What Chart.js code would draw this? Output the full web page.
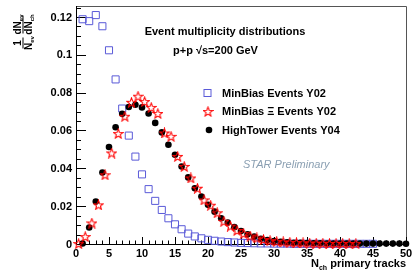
<!DOCTYPE html>
<html>
<head>
<meta charset="utf-8">
<script src="https://cdn.jsdelivr.net/npm/chart.js@4"></script>
<style>
  body { margin: 0; background: #fff; }
  canvas { display: block; }
</style>
</head>
<body>
<canvas id="chart" width="412" height="271"></canvas>
<script>
// MinBias Events Y02 (open squares)
const mbNch = [1, 2, 3, 4, 5, 6, 7, 8, 9, 10, 11, 12, 13, 14, 15, 16, 17, 18, 19, 20,
  21, 22, 23, 24, 25, 26, 27, 28, 29, 30, 31, 32, 33, 34, 35, 36, 37, 38, 39, 40, 41, 42, 43, 44, 45];
const mbValues = [0.1188, 0.1178, 0.1210, 0.1151, 0.1024, 0.0870, 0.0716, 0.0573, 0.0462, 0.0368,
  0.0290, 0.0228, 0.0180, 0.0136, 0.0104, 0.0078, 0.0055, 0.0040, 0.0030, 0.0022,
  0.0017, 0.0013, 0.0010, 0.0008, 0.0006, 0.0005, 0.0004, 0.0003, 0.0003, 0.0002,
  0.0002, 0.0002, 0.0001, 0.0001, 0.0001, 0.0001, 0.0001, 0.0001, 0.0001, 0.0001,
  0.0001, 0.0001, 0.0001, 0.0001, 0.0001];

// MinBias Xi Events Y02 (open stars), bins shifted a bit to the right
const xiNch = [0.4, 1.4, 2.4, 3.4, 4.4, 5.4, 6.4, 7.4, 8.4, 9.4, 10.4, 11.4, 12.4, 13.4, 14.4,
  15.4, 16.4, 17.4, 18.4, 19.4, 20.4, 21.4, 22.4, 23.4, 24.4, 25.4, 26.4, 27.4, 28.4, 29.4,
  30.4, 31.4, 32.4, 33.4, 34.4, 35.4, 36.4, 37.4, 38.4, 39.4, 40.4, 41.4, 42.4];
const xiValues = [0.0002, 0.0039, 0.0111, 0.0207, 0.0366, 0.0481, 0.0584, 0.0675, 0.0749, 0.0781,
  0.0753, 0.0722, 0.0690, 0.0587, 0.0569, 0.0463, 0.0410, 0.0349, 0.0295, 0.0233,
  0.0205, 0.0165, 0.0120, 0.0095, 0.0072, 0.0055, 0.0042, 0.0032, 0.0024, 0.0018,
  0.0014, 0.0011, 0.0009, 0.0007, 0.0006, 0.0005, 0.0004, 0.0004, 0.0003, 0.0003,
  0.0003, 0.0002, 0.0002];

// HighTower Events Y04 (full circles)
const htNch = [1, 2, 3, 4, 5, 6, 7, 8, 9, 10, 11, 12, 13, 14, 15, 16, 17, 18, 19, 20,
  21, 22, 23, 24, 25, 26, 27, 28, 29, 30, 31, 32, 33, 34, 35, 36, 37, 38, 39, 40,
  41, 42, 43, 44, 45, 46, 47, 48, 49, 50];
const htValues = [0.0003, 0.0087, 0.0224, 0.0378, 0.0513, 0.0617, 0.0688, 0.0724, 0.0736, 0.0722,
  0.0690, 0.0640, 0.0590, 0.0525, 0.0472, 0.0410, 0.0352, 0.0295, 0.0251, 0.0207,
  0.0171, 0.0136, 0.0113, 0.0089, 0.0069, 0.0051, 0.0039, 0.0028, 0.0021, 0.0016,
  0.0012, 0.0009, 0.0007, 0.0006, 0.0005, 0.0004, 0.0004, 0.0003, 0.0003, 0.0003,
  0.0003, 0.0003, 0.0002, 0.0002, 0.0002, 0.0002, 0.0002, 0.0002, 0.0002, 0.0001];

// Axis ticks
const xTickLabels = [0, 5, 10, 15, 20, 25, 30, 35, 40, 45, 50];
const yTickLabels = ['0', '0.02', '0.04', '0.06', '0.08', '0.1', '0.12'];
const yTickValues = [0, 0.02, 0.04, 0.06, 0.08, 0.1, 0.12];

const seriesNames = ['MinBias Events Y02', 'MinBias \u039E Events Y02', 'HighTower Events Y04'];

const BLUE = '#5a5ad8';
const RED = '#ff0000';
const FONT = '"Liberation Sans", Arial, sans-serif';

function toPoints(xs, ys) {
  return xs.map((x, i) => ({ x: x, y: ys[i] }));
}

// open five-pointed star marker
function makeStar(size) {
  const c = document.createElement('canvas');
  c.width = size;
  c.height = size;
  const g = c.getContext('2d');
  const cx = size / 2, cy = size / 2, ro = size / 2 - 0.6, ri = ro * 0.42;
  g.beginPath();
  for (let i = 0; i < 10; i++) {
    const r = i % 2 === 0 ? ro : ri;
    const a = -Math.PI / 2 + i * Math.PI / 5;
    const px = cx + r * Math.cos(a), py = cy + r * Math.sin(a) + 0.5;
    if (i === 0) g.moveTo(px, py); else g.lineTo(px, py);
  }
  g.closePath();
  g.strokeStyle = RED;
  g.lineWidth = 1.1;
  g.stroke();
  return c;
}
const starImg = makeStar(11);

const axesPlugin = {
  id: 'rootAxes',
  beforeDatasetsDraw(chart) {
    const ctx = chart.ctx;
    const a = chart.chartArea;
    const xs = chart.scales.x, ys = chart.scales.y;
    ctx.save();
    // frame
    ctx.strokeStyle = '#555';
    ctx.lineWidth = 1;
    ctx.beginPath();
    ctx.moveTo(a.left, a.top + 0.5);
    ctx.lineTo(a.right + 0.5, a.top + 0.5);
    ctx.lineTo(a.right + 0.5, a.bottom);
    ctx.stroke();
    ctx.strokeStyle = '#000';
    ctx.beginPath();
    ctx.moveTo(a.left + 0.5, a.top);
    ctx.lineTo(a.left + 0.5, a.bottom + 0.5);
    ctx.lineTo(a.right + 0.5, a.bottom + 0.5);
    ctx.stroke();
    // y ticks: major every 0.02, minor every 0.005
    ctx.beginPath();
    for (let k = 0; k <= 25; k++) {
      const v = k * 0.005;
      const py = Math.round(ys.getPixelForValue(v)) + 0.5;
      if (py < a.top) continue;
      const len = k % 4 === 0 ? 10 : 5;
      ctx.moveTo(a.left, py);
      ctx.lineTo(a.left + len, py);
    }
    // x ticks: major every 5, minor every 1
    for (let k = 0; k <= 50; k++) {
      const px = Math.round(xs.getPixelForValue(k)) + 0.5;
      const len = k % 5 === 0 ? 7 : 3.5;
      ctx.moveTo(px, a.bottom);
      ctx.lineTo(px, a.bottom - len);
    }
    ctx.stroke();
    ctx.restore();
  },
  afterDraw(chart) {
    const ctx = chart.ctx;
    const a = chart.chartArea;
    const xs = chart.scales.x, ys = chart.scales.y;
    ctx.save();
    ctx.fillStyle = '#000';
    ctx.font = 'bold 11px ' + FONT;
    // y tick labels
    ctx.textAlign = 'right';
    ctx.textBaseline = 'middle';
    yTickValues.forEach((v, i) => {
      ctx.fillText(yTickLabels[i], a.left - 4, ys.getPixelForValue(v) + 0.5);
    });
    // x tick labels
    ctx.textAlign = 'center';
    ctx.textBaseline = 'middle';
    xTickLabels.forEach(v => {
      ctx.fillText(String(v), xs.getPixelForValue(v), a.bottom + 9.5);
    });

    // x title: N_ch primary tracks
    ctx.textBaseline = 'alphabetic';
    ctx.textAlign = 'left';
    const rest = ' primary tracks';
    const wRest = ctx.measureText(rest).width;
    const wN = ctx.measureText('N').width;
    ctx.font = 'bold 7px ' + FONT;
    const wSub = ctx.measureText('ch').width;
    const x0 = a.right - wRest - wSub - wN;
    const base = 267;
    ctx.font = 'bold 11px ' + FONT;
    ctx.fillText('N', x0, base);
    ctx.fillText(rest, x0 + wN + wSub, base);
    ctx.font = 'bold 7px ' + FONT;
    ctx.fillText('ch', x0 + wN, base + 3);

    // y title: 1/N_ev dN_ev/dN_ch rotated
    ctx.save();
    ctx.translate(23, 0);
    ctx.rotate(-Math.PI / 2);
    function subText(parts, cx, baseY) {
      // parts: [[text, size, dy]]
      let w = 0;
      parts.forEach(p => { ctx.font = 'bold ' + p[1] + 'px ' + FONT; w += ctx.measureText(p[0]).width; });
      let x = cx - w / 2;
      parts.forEach(p => {
        ctx.font = 'bold ' + p[1] + 'px ' + FONT;
        ctx.fillText(p[0], x, baseY + p[2]);
        x += ctx.measureText(p[0]).width;
      });
      return w;
    }
    ctx.textAlign = 'left';
    // fraction 1 centred at screen y = 43
    subText([['1', 10, 0]], -43, -2);
    subText([['N', 10, 0], ['ev', 6, 2]], -43, 9);
    ctx.fillRect(-48.5, -0.5, 11, 1);
    // fraction 2 centred at screen y = 24.5
    subText([['dN', 10, 0], ['ev', 6, 2]], -24.5, -2);
    subText([['dN', 10, 0], ['ch', 6, 2]], -24.5, 9);
    ctx.fillRect(-33.5, -0.5, 18, 1);
    ctx.restore();

    // titles
    ctx.textAlign = 'center';
    ctx.textBaseline = 'middle';
    ctx.font = 'bold 11px ' + FONT;
    ctx.fillText('Event multiplicity distributions', 225, 32);
    ctx.fillText('p+p \u221As=200 GeV', 215.5, 51);

    // legend
    ctx.textAlign = 'left';
    const rows = [93, 111.5, 130];
    rows.forEach((ry, i) => {
      ctx.fillStyle = '#000';
      ctx.fillText(seriesNames[i], 222, ry + 0.5);
    });
    ctx.strokeStyle = BLUE;
    ctx.lineWidth = 1;
    ctx.strokeRect(204, 89.5, 7, 7);
    ctx.drawImage(starImg, 208 - 5.5, rows[1] - 5.5);
    ctx.fillStyle = '#000';
    ctx.beginPath();
    ctx.arc(209, rows[2], 3.3, 0, Math.PI * 2);
    ctx.fill();

    // STAR Preliminary
    ctx.font = 'italic 11px ' + FONT;
    ctx.fillStyle = '#8a9fb2';
    ctx.fillText('STAR Preliminary', 243, 165);
    ctx.restore();
  }
};

const ctx = document.getElementById('chart').getContext('2d');
const chart = new Chart(ctx, {
  type: 'scatter',
  data: {
    datasets: [
      {
        label: seriesNames[0],
        data: toPoints(mbNch, mbValues),
        pointStyle: 'rect',
        pointRadius: 5,
        borderColor: BLUE,
        backgroundColor: 'rgba(0,0,0,0)',
        borderWidth: 1,
        order: 2,
        clip: false,
      },
      {
        label: seriesNames[1],
        data: toPoints(xiNch, xiValues),
        pointStyle: starImg,
        order: 0,
        clip: false,
      },
      {
        label: seriesNames[2],
        data: toPoints(htNch, htValues),
        pointStyle: 'circle',
        pointRadius: 3.3,
        borderWidth: 0,
        backgroundColor: '#000',
        borderColor: '#000',
        order: 1,
        clip: false,
      },
    ],
  },
  options: {
    responsive: false,
    animation: false,
    devicePixelRatio: 1,
    layout: { padding: { left: 76, right: 4, top: 5, bottom: 27 } },
    plugins: {
      legend: { display: false },
      tooltip: { enabled: false },
    },
    scales: {
      x: { type: 'linear', min: 0, max: 50, display: false },
      y: { type: 'linear', min: 0, max: 0.1258, display: false },
    },
  },
  plugins: [axesPlugin],
});
</script>
</body>
</html>
